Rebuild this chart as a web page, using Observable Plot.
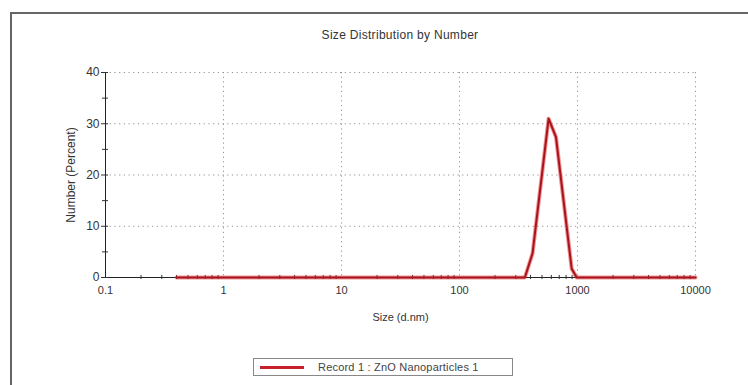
<!DOCTYPE html>
<html>
<head>
<meta charset="utf-8">
<script src="https://cdn.jsdelivr.net/npm/d3@7"></script>
<script src="https://cdn.jsdelivr.net/npm/@observablehq/plot@0.6"></script>
<style>
  html, body { margin: 0; padding: 0; background: #fff; }
  body { width: 748px; height: 385px; overflow: hidden; position: relative; font-family: "Liberation Sans", Arial, sans-serif; color: #333; }
  #frame { position: absolute; left: 10px; top: 12px; width: 760px; height: 390px; border: 2px solid #666; box-sizing: border-box; }
  #title { position: absolute; left: 0; width: 800px; top: 28px; text-align: center; font-size: 12px; letter-spacing: 0.3px; color: #333; }
  #chart { position: absolute; left: 0; top: 40px; }
  #legend { position: absolute; left: 253px; top: 358px; width: 260px; height: 18px; border: 1px solid #888; box-sizing: border-box; font-size: 11px; color: #444; }
  #legend .sw { position: absolute; left: 6px; top: 7px; width: 44px; height: 3px; background: #c8202a; }
  #legend .lb { position: absolute; left: 64px; top: 2px; letter-spacing: 0.2px; }
</style>
</head>
<body>
<div id="frame"></div>
<div id="title">Size Distribution by Number</div>
<div id="chart"></div>
<div id="legend"><div class="sw"></div><div class="lb">Record 1 : ZnO Nanoparticles 1</div></div>
<script>
const sizes = [0.4, 358, 416, 569, 657, 893, 984, 10000];
const numbers = [0, 0, 4.7, 31, 27.4, 1.7, 0, 0];
const xMajor = [0.1, 1, 10, 100, 1000, 10000];
const xMinor = [0.2,0.3,0.4,0.5,0.6,0.7,0.8,0.9, 2,3,4,5,6,7,8,9, 20,30,40,50,60,70,80,90, 200,300,400,500,600,700,800,900, 2000,3000,4000,5000,6000,7000,8000,9000];
const yMajor = [0, 10, 20, 30, 40];
const yMinor = [5, 15, 25, 35];
const xGrid = [1, 10, 100, 1000, 10000];
const yGrid = [10, 20, 30, 40];

const data = sizes.map((s, i) => ({size: s, number: numbers[i]}));

const chart = Plot.plot({
  width: 748,
  height: 300,
  marginLeft: 105,
  marginRight: 53,
  marginTop: 32,
  marginBottom: 63,
  style: {fontFamily: "Liberation Sans, Arial, sans-serif", fontSize: "11px", color: "#333", background: "transparent"},
  x: {type: "log", domain: [0.1, 10000]},
  y: {domain: [0, 40]},
  marks: [
    Plot.gridX(xGrid, {stroke: "#888", strokeOpacity: 0.9, strokeDasharray: "1.2,3.5"}),
    Plot.gridY(yGrid, {stroke: "#888", strokeOpacity: 0.9, strokeDasharray: "1.2,3.5"}),
    Plot.ruleX([0.1], {stroke: "#222", strokeWidth: 1}),
    Plot.ruleY([0], {stroke: "#222", strokeWidth: 1}),
    Plot.ruleX(xMinor, {y1: -0.4, y2: 0.4, stroke: "#333"}),
    Plot.axisY({ticks: yMajor, tickSize: 4, tickPadding: 2, tickFormat: d => String(d), fontSize: 12, label: "Number (Percent)", labelAnchor: "center", labelArrow: "none", labelOffset: 39}),
    Plot.axisY({ticks: yMajor.concat(yMinor), tickSize: -3, tickFormat: () => "", label: null}),
    Plot.axisY({ticks: yMinor, tickSize: 3, tickFormat: () => "", label: null}),
    Plot.axisX({ticks: xMajor, tickSize: 0, tickPadding: 9, tickFormat: d => String(d), fontSize: 11, label: "Size (d.nm)", labelAnchor: "center", labelArrow: "none", labelOffset: 43}),
    Plot.line(data, {x: "size", y: "number", stroke: "#e23a3a", strokeWidth: 4, strokeOpacity: 0.55}),
    Plot.line(data, {x: "size", y: "number", stroke: "#a8141e", strokeWidth: 2})
  ]
});
document.getElementById("chart").appendChild(chart);
</script>
</body>
</html>
